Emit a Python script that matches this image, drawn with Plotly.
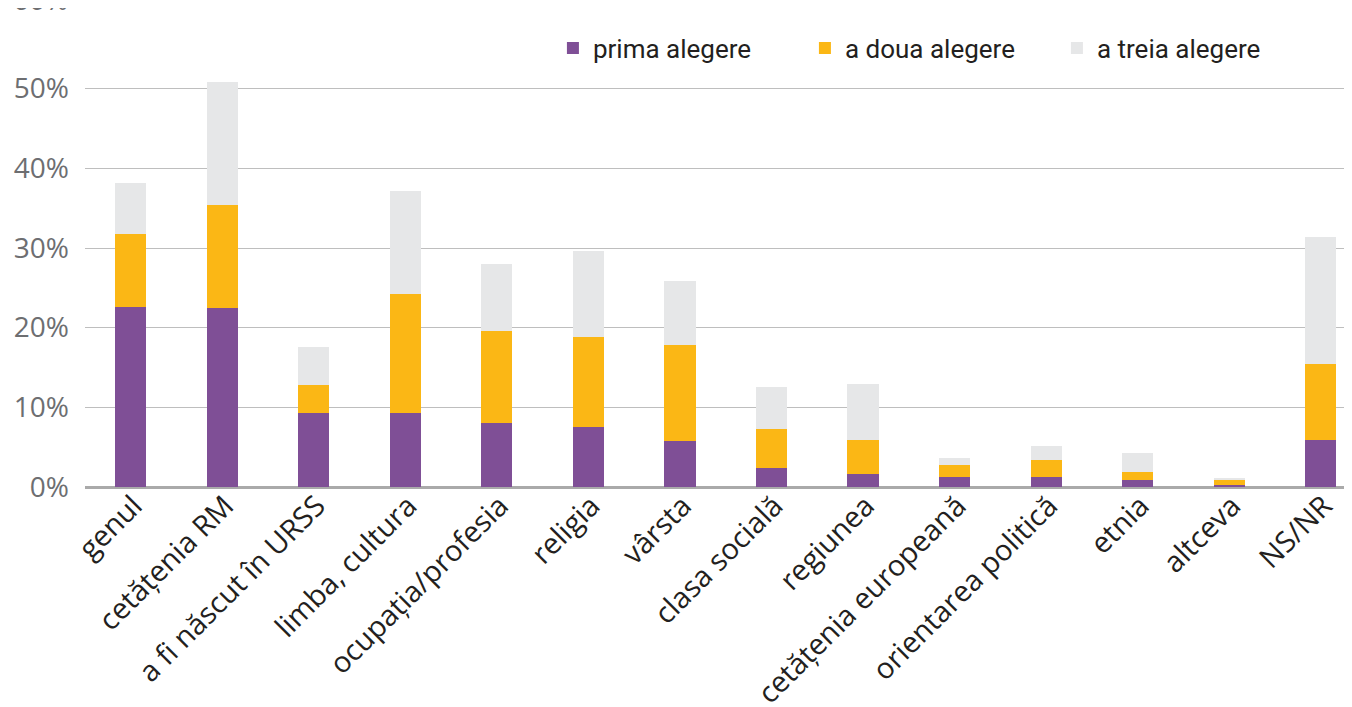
import plotly.graph_objects as go

categories = ["genul", "cetățenia RM", "a fi născut în URSS", "limba, cultura",
              "ocupația/profesia", "religia", "vârsta", "clasa socială",
              "regiunea", "cetățenia europeană", "orientarea politică",
              "etnia", "altceva", "NS/NR"]
prima = [22.6, 22.5, 9.3, 9.3, 8.0, 7.5, 5.8, 2.4, 1.6, 1.3, 1.3, 0.9, 0.3, 5.9]
a_doua = [9.2, 12.9, 3.5, 14.9, 11.6, 11.3, 12.0, 4.9, 4.3, 1.5, 2.1, 1.0, 0.6, 9.6]
a_treia = [6.4, 15.5, 4.8, 13.0, 8.4, 10.8, 8.1, 5.3, 7.0, 0.8, 1.8, 2.4, 0.2, 15.9]
tick_vals = [0, 10, 20, 30, 40, 50]
tick_text = ["0%", "10%", "20%", "30%", "40%", "50%"]

series = [("prima alegere", prima, "#7F4F96"),
          ("a doua alegere", a_doua, "#FBB715"),
          ("a treia alegere", a_treia, "#E6E7E8")]

fig = go.Figure()
for name, vals, col in series:
    fig.add_trace(go.Bar(x=categories, y=vals, name=name, marker_color=col,
                         marker_line_width=0))

fig.update_layout(
    width=1352, height=707,
    barmode="stack", bargap=0.66,
    plot_bgcolor="white", paper_bgcolor="white",
    margin=dict(l=77, r=0, t=1, b=228, autoexpand=False),
    showlegend=True,
    legend=dict(orientation="h", x=0.367, xanchor="left", y=0.918, yanchor="middle",
                traceorder="normal",
                font=dict(family="Roboto", size=26, color="#231F20"),
                entrywidth=207, entrywidthmode="pixels", itemwidth=30,
                bgcolor="rgba(0,0,0,0)"),
    xaxis=dict(range=[-0.5, 13.43], tickangle=-45, showgrid=False, automargin=False,
               tickfont=dict(family="Open Sans", size=29, color="#231F20"),
               showline=False, ticks="", ticklabelstandoff=-5, ticklabelshift=3),
    yaxis=dict(range=[0, 60], tickvals=tick_vals, ticktext=tick_text, automargin=False,
               showgrid=True, gridcolor="#BEBEBE", gridwidth=1,
               zeroline=True, zerolinecolor="#AAAAAA", zerolinewidth=3,
               tickfont=dict(family="Open Sans", size=28, color="#6D6E71"),
               ticks="", ticklabelstandoff=15),
)
fig.add_annotation(x=0, xref="paper", xanchor="right", xshift=-15,
                   y=60, yref="y", yanchor="middle", yshift=10, text="60%", showarrow=False,
                   font=dict(family="Open Sans", size=28, color="#6D6E71"))

fig.write_html("out.html")
